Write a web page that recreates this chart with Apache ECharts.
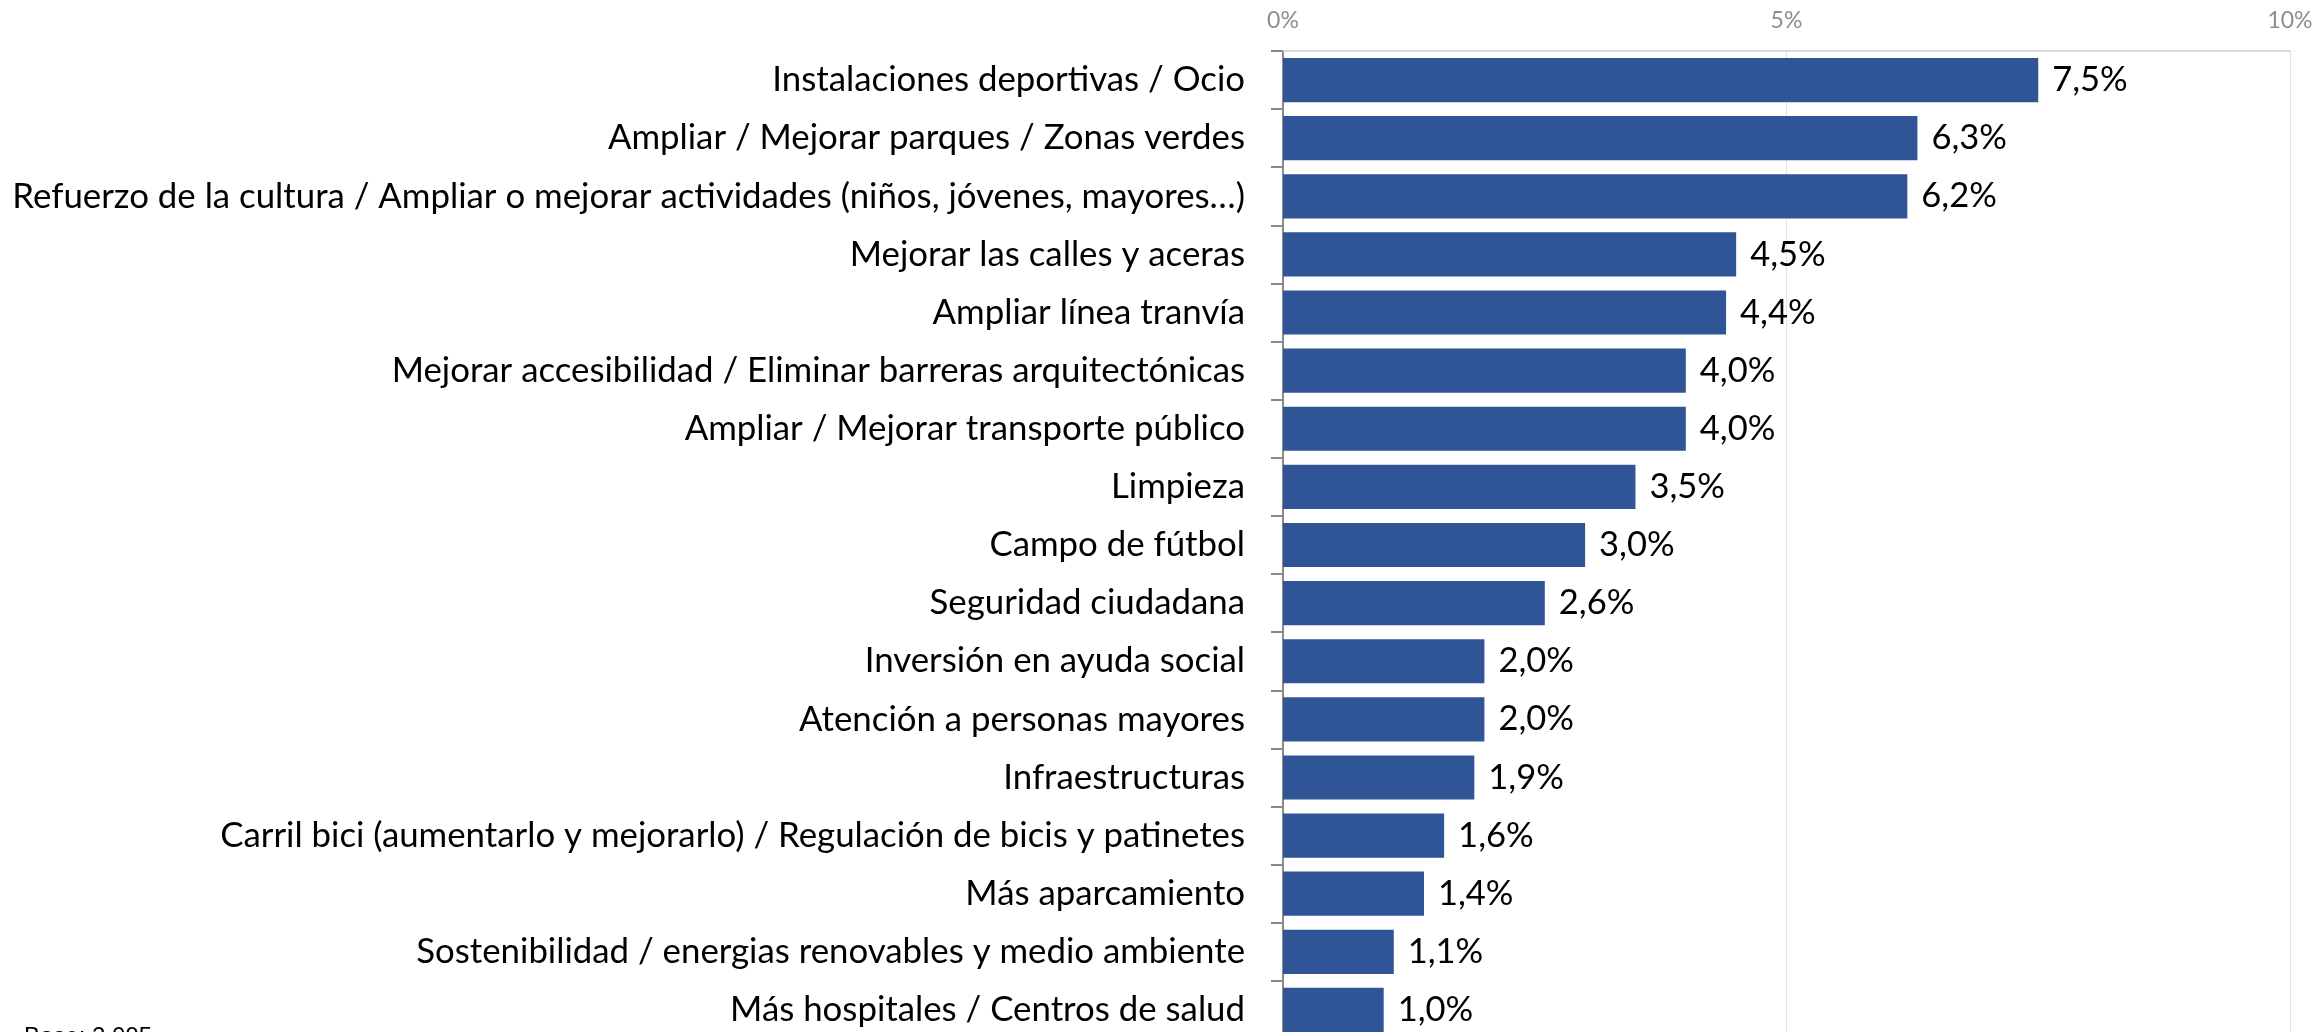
<!DOCTYPE html>
<html>
<head>
<meta charset="utf-8">
<script src="https://cdn.jsdelivr.net/npm/echarts@6/dist/echarts.min.js"></script>
<style>
  html, body { margin: 0; padding: 0; background: #fff; }
  #chart { width: 2316px; height: 1032px; }
</style>
</head>
<body>
<div id="chart"></div>
<script>
// categorías (de arriba abajo)
const categories = [
  'Instalaciones deportivas / Ocio',
  'Ampliar / Mejorar parques / Zonas verdes',
  'Refuerzo de la cultura / Ampliar o mejorar actividades (niños, jóvenes, mayores…)',
  'Mejorar las calles y aceras',
  'Ampliar línea tranvía',
  'Mejorar accesibilidad / Eliminar barreras arquitectónicas',
  'Ampliar / Mejorar transporte público',
  'Limpieza',
  'Campo de fútbol',
  'Seguridad ciudadana',
  'Inversión en ayuda social',
  'Atención a personas mayores',
  'Infraestructuras',
  'Carril bici (aumentarlo y mejorarlo) / Regulación de bicis y patinetes',
  'Más aparcamiento',
  'Sostenibilidad / energias renovables y medio ambiente',
  'Más hospitales / Centros de salud'
];
const values = [7.5, 6.3, 6.2, 4.5, 4.4, 4.0, 4.0, 3.5, 3.0, 2.6, 2.0, 2.0, 1.9, 1.6, 1.4, 1.1, 1.0];
const xTicks = [0, 5, 10];
const baseText = 'Base: 2.095';

const font = 'Lato, "Open Sans", sans-serif';
const chart = echarts.init(document.getElementById('chart'));

let option = {
  animation: false,
  grid: {
    left: 1283,
    right: 26,
    top: 51,
    height: 988,
    outerBoundsMode: 'none' // el gráfico sigue por debajo del borde
  },
  xAxis: {
    type: 'value',
    position: 'top',
    min: xTicks[0],
    max: xTicks[xTicks.length - 1],
    interval: 5,
    axisLine: { show: true, lineStyle: { color: '#d9d9d9', width: 2 } },
    axisTick: { show: false },
    axisLabel: {
      margin: 19,
      color: '#8d8d8d',
      fontFamily: font,
      fontSize: 23,
      formatter: function (v) { return v + '%'; }
    },
    splitLine: { show: true, lineStyle: { color: '#e3e3e3', width: 1 } }
  },
  yAxis: {
    type: 'category',
    inverse: true,
    data: categories,
    axisLine: { show: true, lineStyle: { color: '#8a8a8a', width: 2 } },
    axisTick: { show: true, inside: false, length: 12, lineStyle: { color: '#8a8a8a', width: 2 } },
    axisLabel: {
      margin: 38,
      color: '#000',
      fontFamily: font,
      fontSize: 34.8,
      padding: [4, 0, 0, 0]
    }
  },
  series: [{
    type: 'bar',
    data: values,
    barCategoryGap: '24%',
    itemStyle: { color: '#2f5597' },
    label: {
      show: true,
      position: 'right',
      distance: 14,
      color: '#000',
      fontFamily: font,
      fontSize: 34.5,
      padding: [4, 0, 0, 0],
      formatter: function (p) { return p.value.toFixed(1).replace('.', ',') + '%'; }
    }
  }],
  graphic: [{
    type: 'text',
    left: 24,
    top: 1025,
    style: { text: baseText, font: '24px "Liberation Sans", Arial, sans-serif', fill: '#000' }
  }]
};

chart.setOption(option);
window.onresize = () => { chart.resize(); };
</script>
</body>
</html>
